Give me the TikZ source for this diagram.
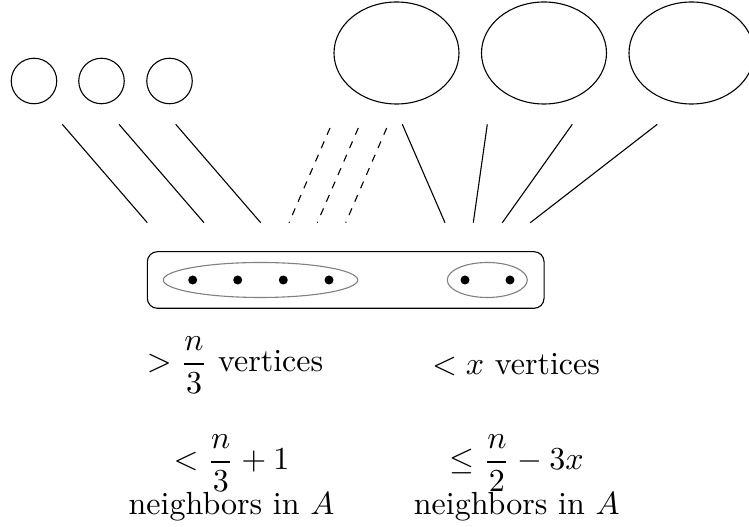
\documentclass[tikz,border=0pt]{standalone}
\usetikzlibrary{shapes.geometric}
\newdimen\pxu
\pxu=0.3125pt
\begin{document}
\begin{tikzpicture}[x=\pxu,y=-\pxu, line width=1.1\pxu,
  smallset/.style={circle,draw,minimum size=45.5\pxu,inner sep=0pt},
  bigset/.style={ellipse,draw,minimum width=125\pxu,minimum height=102\pxu,inner sep=0pt},
  solidedge/.style={draw},
  dashedge/.style={draw,dash pattern=on 7.3\pxu off 7.3\pxu},
  groupset/.style={ellipse,draw=gray,minimum height=35\pxu,inner sep=0pt},
  vtx/.style={circle,fill,minimum size=9\pxu,inner sep=0pt},
  holder/.style={draw,rounded corners=10\pxu,minimum width=396.7\pxu,minimum height=56.6\pxu,inner sep=0pt},
  lab/.style={anchor=base,inner sep=0pt}]
\useasboundingbox (0,0) rectangle (749,527);
% small sets
\node[smallset] (c1) at (34,81) {};
\node[smallset] (c2) at (101.5,81) {};
\node[smallset] (c3) at (169.5,81) {};
% big sets
\node[bigset] (e1) at (396.5,53) {};
\node[bigset] (e2) at (544,53) {};
\node[bigset] (e3) at (691.5,53) {};
% holder box
\node[holder] (S) at (345.7,280) {};
\node[groupset,minimum width=194.4\pxu] (gL) at (260.5,280) {};
\node[groupset,minimum width=80\pxu] (gR) at (487.3,280) {};
\node[vtx] (v1) at (192.7,280) {};
\node[vtx] (v2) at (237.7,280) {};
\node[vtx] (v3) at (283.3,280) {};
\node[vtx] (v4) at (329,280) {};
\node[vtx] (v5) at (465,280) {};
\node[vtx] (v6) at (510,280) {};
% solid lines from small sets
\coordinate (s1a) at (62.3,124.3);  \coordinate (s1b) at (147.3,222.7);
\coordinate (s2a) at (119,124.3);   \coordinate (s2b) at (204,222.7);
\coordinate (s3a) at (175.7,124.3); \coordinate (s3b) at (260.7,222.7);
\draw[solidedge] (s1a) -- (s1b);
\draw[solidedge] (s2a) -- (s2b);
\draw[solidedge] (s3a) -- (s3b);
% dashed lines
\coordinate (d1a) at (330,128);   \coordinate (d1b) at (289,222.7);
\coordinate (d2a) at (358.3,128); \coordinate (d2b) at (317.3,222.7);
\coordinate (d3a) at (386.7,128); \coordinate (d3b) at (345.7,222.7);
\draw[dashedge] (d1a) -- (d1b);
\draw[dashedge] (d2a) -- (d2b);
\draw[dashedge] (d3a) -- (d3b);
% solid lines from big sets
\coordinate (r1a) at (402.3,124.3); \coordinate (r1b) at (445,222.7);
\coordinate (r2a) at (487.3,124.3); \coordinate (r2b) at (473.3,222.7);
\coordinate (r3a) at (572.3,124.3); \coordinate (r3b) at (502.3,222.7);
\coordinate (r4a) at (657.3,124.3); \coordinate (r4b) at (530.3,222.7);
\draw[solidedge] (r1a) -- (r1b);
\draw[solidedge] (r2a) -- (r2b);
\draw[solidedge] (r3a) -- (r3b);
\draw[solidedge] (r4a) -- (r4b);
% labels
\node[lab] (t1) at (235,372) {$\displaystyle > \frac{n}{3}$ vertices};
\node[lab] (t2) at (516,375) {$< x$ vertices};
\node[lab] (t3) at (231.5,470) {$\displaystyle < \frac{n}{3} + 1$};
\node[lab] (t4) at (516.7,470) {$\displaystyle \leq \frac{n}{2} - 3x$};
\node[lab] (t5) at (231.5,515) {neighbors in $A$};
\node[lab] (t6) at (516.7,515) {neighbors in $A$};
\end{tikzpicture}
\end{document}
